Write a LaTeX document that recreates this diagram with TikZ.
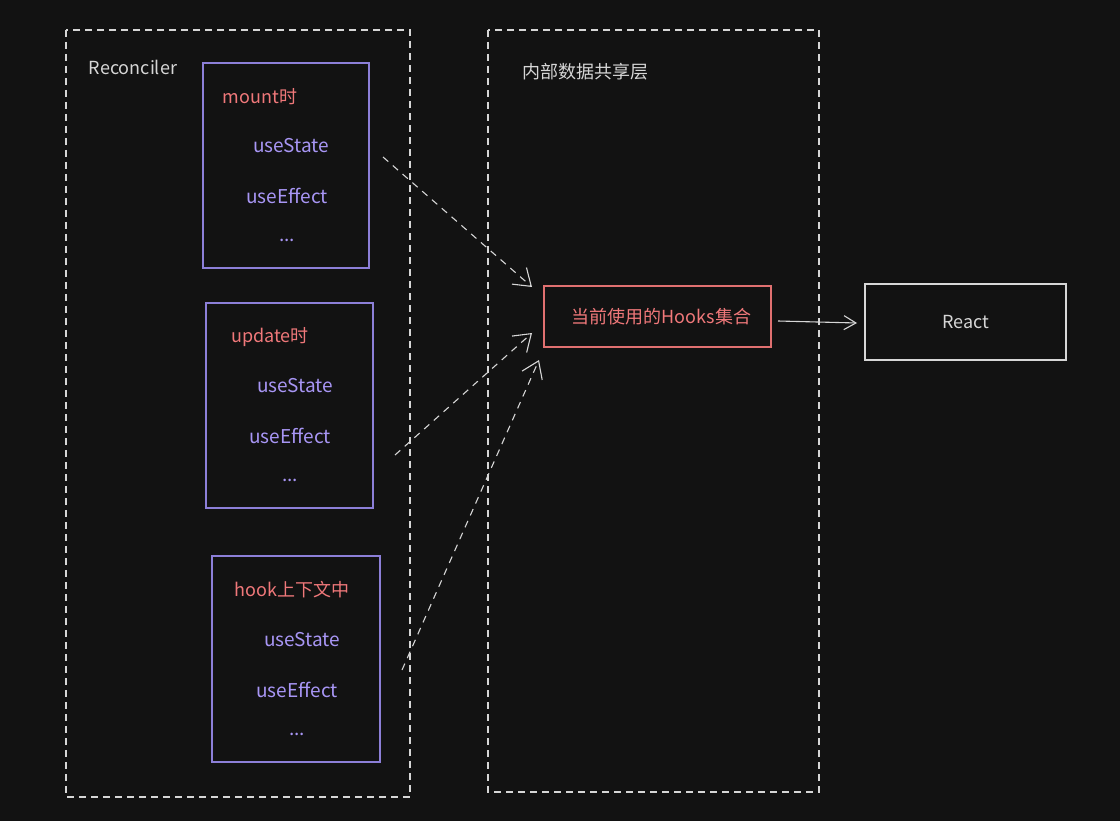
\documentclass[tikz,border=0pt]{standalone}
\usepackage{fontspec}
\setmainfont{Noto Sans CJK SC}
\usetikzlibrary{arrows.meta}
\definecolor{bg}{HTML}{121212}
\definecolor{gline}{HTML}{D6D6D6}
\definecolor{pbox}{HTML}{8C7FD8}
\definecolor{ptext}{HTML}{A896F5}
\definecolor{rtext}{HTML}{F0787A}
\definecolor{rbox}{HTML}{E07070}
\tikzset{
  group/.style={draw=gline, line width=1.1pt, dash pattern=on 7pt off 5pt},
  hookbox/.style={draw=pbox, line width=1.6pt},
  title/.style={text=rtext, font=\fontsize{18}{20}\selectfont},
  hk/.style={text=ptext, font=\fontsize{19}{22}\selectfont},
  lbl/.style={text=gline, font=\fontsize{18}{20}\selectfont},
  dflow/.style={draw=gline, line width=1.1pt, dash pattern=on 7pt off 6pt, -{Straight Barb[length=16pt,width=22pt,line width=1.1pt]}},
  sflow/.style={draw=gline, line width=1.1pt, -{Straight Barb[length=12pt,width=14pt,line width=1.1pt]}}
}
\begin{document}
\begin{tikzpicture}[x=1pt,y=-1pt]
\fill[bg] (0,0) rectangle (1120,821);
\useasboundingbox (0,0) rectangle (1120,821);
% group boxes
\draw[group] (66,30) rectangle (410,797);
\draw[group] (488,30) rectangle (819,792);
\node[lbl] (rec) at (133,67) {Reconciler};
\node[lbl] (shared) at (585,72) {内部数据共享层};
% mount box
\draw[hookbox] (203,63) rectangle (369,268);
\node[title] (mt) at (260,97) {mount时};
\node[hk] (m1) at (291,146) {useState};
\node[hk] (m2) at (287,196) {useEffect};
\node[hk] (m3) at (287,240) {...};
% update box
\draw[hookbox] (206,303) rectangle (373,508);
\node[title] (ut) at (270,337) {update时};
\node[hk] (u1) at (295,386) {useState};
\node[hk] (u2) at (290,436) {useEffect};
\node[hk] (u3) at (290,480) {...};
% hook box
\draw[hookbox] (212,556) rectangle (380,762);
\node[title] (ht) at (292,590) {hook上下文中};
\node[hk] (h1) at (302,640) {useState};
\node[hk] (h2) at (297,690) {useEffect};
\node[hk] (h3) at (297,734) {...};
% center and react
\node[draw=rbox, line width=1.4pt, minimum width=227pt, minimum height=61pt, text=rtext, font=\fontsize{18}{20}\selectfont, inner sep=0pt] (set) at (657.5,316.5) {\hspace*{8pt}当前使用的Hooks集合};
\node[draw=gline, line width=1.4pt, minimum width=201pt, minimum height=76pt, text=gline, font=\fontsize{18}{20}\selectfont, inner sep=0pt] (react) at (965.5,322) {React};
% connectors
\coordinate (a1s) at (383,157);
\coordinate (a1e) at (532,287);
\coordinate (a2s) at (395,455);
\coordinate (a2e) at (532,333);
\coordinate (a3s) at (402,670);
\coordinate (a3e) at (539,360);
\coordinate (a4s) at (778,321);
\coordinate (a4e) at (857,323);
\draw[dflow] (a1s) -- (a1e);
\draw[dflow] (a2s) -- (a2e);
\draw[dflow] (a3s) -- (a3e);
\draw[sflow] (a4s) -- (a4e);
\end{tikzpicture}
\end{document}
